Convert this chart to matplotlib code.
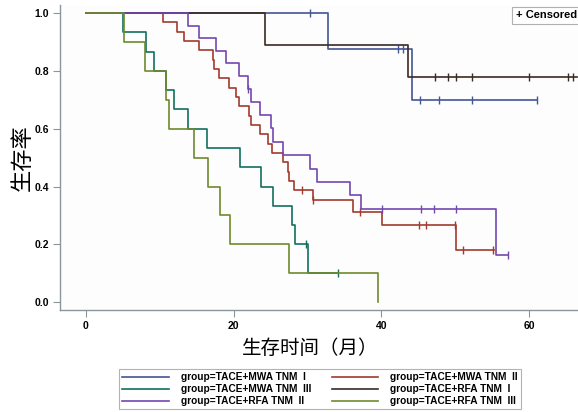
import numpy as np
import matplotlib
matplotlib.use("Agg")
import matplotlib.pyplot as plt

plt.rcParams['font.family'] = ['Liberation Sans', 'Noto Sans CJK SC', 'DejaVu Sans']

# step times (months) and survival after each step, censor times, end of line
mwa1_t = [0, 32.8, 44.1]
mwa1_s = [1.0, 0.875, 0.7]
mwa1_cens = [30.3, 42.3, 42.9, 45.2, 47.8, 52.2, 61.1]
mwa1_end = 61.1

mwa2_t = [0, 10.4, 12.3, 13.3, 15.3, 17.2, 17.4, 18.0, 19.4, 20.3, 20.7, 22.1, 22.3,
          23.6, 24.6, 25.2, 26.7, 27.3, 27.5, 28.2, 30.7, 36.2, 40.1, 50.1]
mwa2_s = [1.0, 0.968, 0.935, 0.903, 0.871, 0.839, 0.806, 0.774, 0.742, 0.710, 0.677,
          0.645, 0.613, 0.581, 0.548, 0.516, 0.484, 0.452, 0.419, 0.387, 0.352, 0.313,
          0.268, 0.179]
mwa2_cens = [29.2, 30.8, 37.1, 45.1, 46.0, 50.0, 51.0, 55.1]
mwa2_end = 55.2

mwa3_t = [0, 5.0, 8.2, 9.2, 10.8, 11.9, 13.8, 16.4, 20.9, 23.7, 25.3, 27.9, 28.3, 30.0]
mwa3_s = [1.0, 0.933, 0.867, 0.8, 0.733, 0.667, 0.6, 0.533, 0.467, 0.4, 0.333, 0.267,
          0.2, 0.1]
mwa3_cens = [29.8, 34.1]
mwa3_end = 34.1

rfa1_t = [0, 24.2, 43.6]
rfa1_s = [1.0, 0.889, 0.778]
rfa1_cens = [47.2, 49.0, 50.1, 52.2, 60.0, 65.3, 65.9]
rfa1_end = 66.5

rfa2_t = [0, 13.8, 15.3, 17.6, 18.9, 20.7, 21.9, 22.4, 23.6, 25.0, 25.3, 26.7, 30.3,
          31.3, 35.7, 37.3, 55.5]
rfa2_s = [1.0, 0.957, 0.913, 0.870, 0.826, 0.783, 0.739, 0.693, 0.647, 0.601, 0.554,
          0.508, 0.462, 0.416, 0.370, 0.323, 0.162]
rfa2_cens = [22.0, 40.1, 45.4, 47.1, 50.1, 57.1]
rfa2_end = 57.1

rfa3_t = [0, 5.2, 8.0, 10.8, 11.3, 14.7, 16.5, 18.2, 19.5, 27.5, 39.5]
rfa3_s = [1.0, 0.9, 0.8, 0.7, 0.6, 0.5, 0.4, 0.3, 0.2, 0.1, 0.0]
rfa3_cens = []
rfa3_end = 39.5

labels = ["group=TACE+MWA TNM  I", "group=TACE+MWA TNM  II",
          "group=TACE+MWA TNM  III", "group=TACE+RFA TNM  I",
          "group=TACE+RFA TNM  II", "group=TACE+RFA TNM  III"]
colors = ['#445694', '#A23A2E', '#11705F', '#3B2A22', '#7347B0', '#6F8A2E']

groups = [(mwa1_t, mwa1_s, mwa1_cens, mwa1_end),
          (mwa2_t, mwa2_s, mwa2_cens, mwa2_end),
          (mwa3_t, mwa3_s, mwa3_cens, mwa3_end),
          (rfa1_t, rfa1_s, rfa1_cens, rfa1_end),
          (rfa2_t, rfa2_s, rfa2_cens, rfa2_end),
          (rfa3_t, rfa3_s, rfa3_cens, rfa3_end)]

fig = plt.figure(figsize=(5.78, 4.12), dpi=100)
ax = fig.add_axes([60 / 578, 1 - 310 / 412, 518 / 578, 305 / 412])

handles = []
for (t, s, cens, end), col, lab in zip(groups, colors, labels):
    tt = list(t) + [end]
    ss = list(s) + [s[-1]]
    h, = ax.step(tt, ss, where='post', color=col, lw=1.2, label=lab)
    handles.append(h)
    if cens:
        idx = np.searchsorted(t, cens, side='right') - 1
        ax.plot(cens, np.array(s)[idx], ls='none', marker='|', ms=6, mew=1.0, color=col)

ax.set_xlim(-3.5, 66.6)
ax.set_ylim(-0.027, 1.028)
ax.set_xticks([0, 20, 40, 60])
ax.set_yticks([0.0, 0.2, 0.4, 0.6, 0.8, 1.0])
ax.set_yticklabels(['0.0', '0.2', '0.4', '0.6', '0.8', '1.0'])
ax.tick_params(length=5, width=0.8, color='#8a969c', pad=3, labelsize=7.5)
for lab in ax.get_xticklabels() + ax.get_yticklabels():
    lab.set_fontweight('bold')
for side in ['top', 'right']:
    ax.spines[side].set_visible(False)
for side in ['left', 'bottom']:
    ax.spines[side].set_color('#8a969c')
    ax.spines[side].set_linewidth(1.0)
ax.set_facecolor('#fdfdfd')

ax.text(0.998, 0.982, '+ Censored', transform=ax.transAxes, ha='right', va='top',
        fontsize=8, fontweight='bold',
        bbox=dict(boxstyle='square,pad=0.35', fc='white', ec='#b0b0b0', lw=0.8))

fig.text(22 / 578, 1 - 158 / 412, '生存率', rotation=90, ha='center', va='center',
         fontsize=16, family=['Noto Sans CJK SC', 'DejaVu Sans'])
fig.text(310 / 578, 1 - 349 / 412, '生存时间（月）', ha='center', va='center',
         fontsize=14, family=['Noto Sans CJK SC', 'DejaVu Sans'])

order = [0, 2, 4, 1, 3, 5]
leg = fig.legend([handles[i] for i in order], [labels[i] for i in order],
                 loc='upper center', bbox_to_anchor=(320 / 578, 1 - 364 / 412),
                 ncol=2, fontsize=7.3, handlelength=4.6, columnspacing=2.0,
                 labelspacing=0.2, borderpad=0.3, handletextpad=1.2,
                 frameon=True, fancybox=False, edgecolor='#a0a0a0')
leg.get_frame().set_linewidth(0.8)
for txt in leg.get_texts():
    txt.set_fontweight('bold')

fig.savefig('out.png', dpi=100)
